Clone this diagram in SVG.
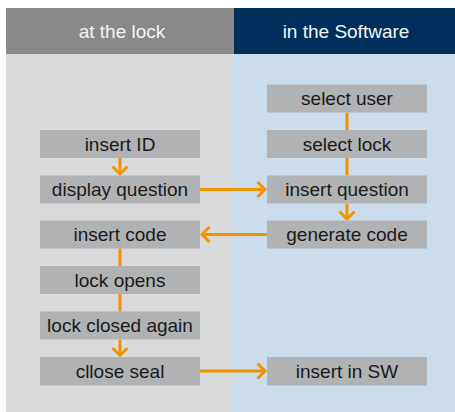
<svg xmlns="http://www.w3.org/2000/svg" width="455" height="412" viewBox="0 0 455 412">
<style>
.box{fill:#b1b2b4}
.lbl{font-family:"Liberation Sans",Arial,sans-serif;font-size:19px;fill:#1a1a1a;text-anchor:middle}
.hdr{font-family:"Liberation Sans",Arial,sans-serif;font-size:19px;fill:#f4f4f4;text-anchor:middle}
.ln{stroke:#f39200;stroke-width:3;fill:none}
.ah{stroke:#f39200;stroke-width:3;fill:none;stroke-linecap:butt;stroke-linejoin:miter}
</style>
<rect width="455" height="412" fill="#ffffff"/>
<g id="lane-lock">
<rect x="6" y="54" width="228" height="358" fill="#d9dadc"/>
<rect x="6" y="8" width="228" height="46" fill="#898989"/>
<text class="hdr" x="122" y="37.5">at the lock</text>
</g>
<g id="lane-software">
<rect x="234" y="54" width="221" height="358" fill="#cbdcea"/>
<rect x="234" y="8" width="221" height="46" fill="#002f5c"/>
<text class="hdr" x="346" y="37.5">in the Software</text>
</g>
<g id="connectors">
<line class="ln" x1="347" y1="112.5" x2="347" y2="130"/>
<line class="ln" x1="347" y1="158" x2="347" y2="175.5"/>
<line class="ln" x1="347" y1="203.5" x2="347" y2="219"/>
<polyline class="ah" points="339.5,211.5 347,219 354.5,211.5"/>
<line class="ln" x1="120" y1="158" x2="120" y2="174"/>
<polyline class="ah" points="112.5,166.5 120,174 127.5,166.5"/>
<line class="ln" x1="200" y1="189.5" x2="265" y2="189.5"/>
<polyline class="ah" points="257.5,182 265,189.5 257.5,197"/>
<line class="ln" x1="267" y1="234.5" x2="202" y2="234.5"/>
<polyline class="ah" points="209.5,227 202,234.5 209.5,242"/>
<line class="ln" x1="120" y1="248.5" x2="120" y2="266"/>
<line class="ln" x1="120" y1="294" x2="120" y2="311.5"/>
<line class="ln" x1="120" y1="339.5" x2="120" y2="355.5"/>
<polyline class="ah" points="112.5,348 120,355.5 127.5,348"/>
<line class="ln" x1="200" y1="371" x2="265" y2="371"/>
<polyline class="ah" points="257.5,363.5 265,371 257.5,378.5"/>
</g>
<g id="n-select-user"><rect class="box" x="267" y="84.5" width="160" height="28"/><text class="lbl" x="347" y="105">select user</text></g>
<g id="n-select-lock"><rect class="box" x="267" y="130" width="160" height="28"/><text class="lbl" x="347" y="150.5">select lock</text></g>
<g id="n-insert-question"><rect class="box" x="267" y="175.5" width="160" height="28"/><text class="lbl" x="347" y="196">insert question</text></g>
<g id="n-generate-code"><rect class="box" x="267" y="220.5" width="160" height="28"/><text class="lbl" x="347" y="241">generate code</text></g>
<g id="n-insert-in-sw"><rect class="box" x="267" y="357" width="160" height="28.5"/><text class="lbl" x="347" y="377.5">insert in SW</text></g>
<g id="n-insert-id"><rect class="box" x="40" y="130" width="160" height="28"/><text class="lbl" x="120" y="150.5">insert ID</text></g>
<g id="n-display-question"><rect class="box" x="40" y="175.5" width="160" height="28"/><text class="lbl" x="120" y="196">display question</text></g>
<g id="n-insert-code"><rect class="box" x="40" y="220.5" width="160" height="28"/><text class="lbl" x="120" y="241">insert code</text></g>
<g id="n-lock-opens"><rect class="box" x="40" y="266" width="160" height="28"/><text class="lbl" x="120" y="286.5">lock opens</text></g>
<g id="n-lock-closed-again"><rect class="box" x="40" y="311.5" width="160" height="28"/><text class="lbl" x="120" y="332">lock closed again</text></g>
<g id="n-cllose-seal"><rect class="box" x="40" y="357" width="160" height="28.5"/><text class="lbl" x="120" y="377.5">cllose seal</text></g>
</svg>
